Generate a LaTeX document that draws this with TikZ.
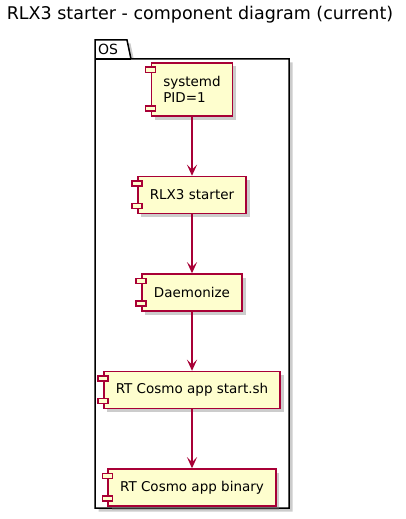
\documentclass[tikz,border=0pt]{standalone}
\usepackage{fontspec}
\setmainfont{DejaVu Sans}
\usetikzlibrary{positioning,shadows,arrows.meta}
\definecolor{umlred}{HTML}{A80036}
\definecolor{umlfill}{HTML}{FEFECE}
\tikzset{
  comp/.style={draw=umlred, line width=1.5pt, fill=umlfill,
    drop shadow={shadow xshift=3.5pt, shadow yshift=-3.5pt, opacity=0.4},
    font=\fontsize{13.5}{16.5}\selectfont, align=left,
    minimum height=37pt, inner xsep=12pt},
  port/.style={draw=umlred, line width=1.5pt, fill=umlfill},
  flow/.style={draw=umlred, line width=1.2pt,
    -{Stealth[length=11pt,width=10pt,inset=5pt]}},
  pkg/.style={draw=black, line width=1.5pt, fill=white,
    drop shadow={shadow xshift=3.5pt, shadow yshift=-3.5pt, opacity=0.4}},
}
% the two small boxes on the left side of a component
\newcommand{\ports}[1]{%
  \draw[port] ([xshift=-5pt,yshift=-5pt]#1.north west) rectangle ++(10pt,-5pt);
  \draw[port] ([xshift=-5pt,yshift=6pt]#1.south west) rectangle ++(10pt,5pt);
}
\begin{document}
\begin{tikzpicture}[x=1pt, y=-1pt, node distance=59pt]
    \useasboundingbox (0,0) rectangle (406,519);

    % Title
    \node[anchor=base, font=\fontsize{17.5}{21}\selectfont] (title) at (200,20)
        {RLX3 starter - component diagram (current)};

    % Package
    \filldraw[pkg] (95,40) -- (127,40) -- (131,59) -- (289,59) -- (289,508)
        -- (95,508) -- cycle;
    \draw[line width=1.5pt] (95,59) -- (131,59);
    \node[anchor=base west, inner sep=0pt, font=\fontsize{14}{16}\selectfont]
        (os) at (98,55) {OS};

    % Components
    \node[comp, minimum height=53pt] (sysd) at (192,89.5) {systemd\\PID=1};
    \node[comp, below=of sysd] (starter) {RLX3 starter};
    \node[comp, below=of starter] (daemon) {Daemonize};
    \node[comp, below=of daemon] (startsh) {RT Cosmo app start.sh};
    \node[comp, below=of startsh] (binary) {RT Cosmo app binary};

    \ports{sysd}
    \ports{starter}
    \ports{daemon}
    \ports{startsh}
    \ports{binary}

    % Arrows
    \draw[flow] (sysd) -- (starter);
    \draw[flow] (starter) -- (daemon);
    \draw[flow] (daemon) -- (startsh);
    \draw[flow] (startsh) -- (binary);
\end{tikzpicture}
\end{document}
